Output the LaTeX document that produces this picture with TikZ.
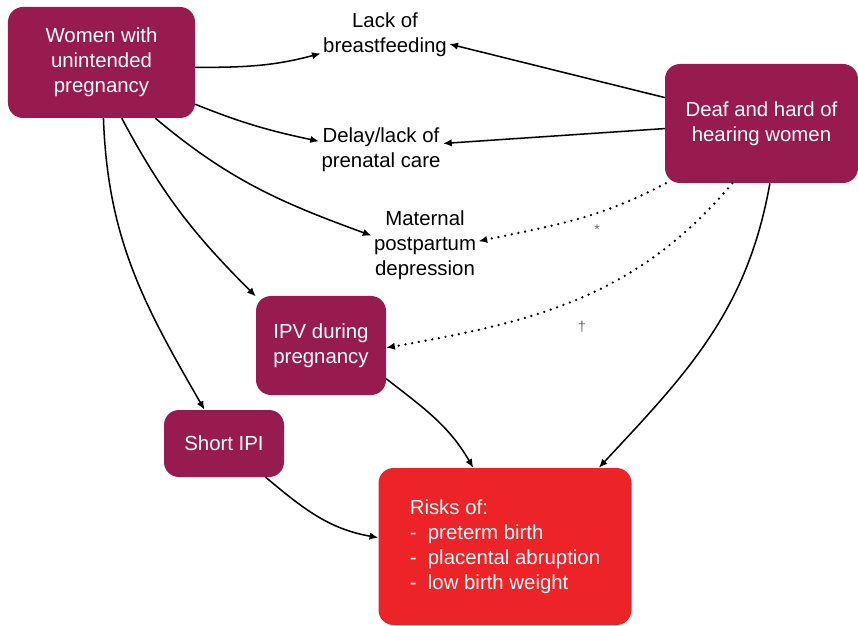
\documentclass[tikz,border=0pt]{standalone}
\usepackage{fontspec}
\setmainfont{Liberation Sans}
\usepackage{xcolor}
\usetikzlibrary{arrows.meta}
\definecolor{plum}{RGB}{152,27,80}
\definecolor{riskred}{RGB}{236,36,39}
\newcommand{\diagfont}{\fontsize{17.4}{21.3}\selectfont}
\tikzset{
    factorBox/.style={
        fill=plum,
        rounded corners=4.5mm,
        align=center,
        text=white,
        font=\diagfont
    },
    riskBox/.style={
        fill=riskred,
        rounded corners=4.5mm,
        align=left,
        text=white,
        font=\diagfont
    },
    outcomeText/.style={
        align=center,
        inner sep=2pt,
        font=\diagfont
    },
    noteMark/.style={
        text=black!60,
        font=\fontsize{12}{13}\selectfont
    },
    linkArrow/.style={
        -{Latex[length=2.6mm,width=2.2mm]},
        line width=1.3pt
    },
    linkDotted/.style={
        -{Latex[length=2.6mm,width=2.2mm]},
        line width=2.2pt,
        line cap=round,
        dash pattern=on 0pt off 5.8pt
    }
}

\begin{document}
\begin{tikzpicture}
        \useasboundingbox (0,0) rectangle (25.74,18.75);

        \node[factorBox,minimum width=5.61cm,minimum height=3.33cm] (women) at (3.045,16.875) {Women with\\unintended\\pregnancy};
        \node[factorBox,minimum width=5.79cm,minimum height=3.57cm] (deaf) at (22.845,15.045) {Deaf and hard of\\hearing women};
        \node[factorBox,minimum width=3.9cm,minimum height=2.97cm] (ipv) at (9.63,8.385) {IPV during\\pregnancy};
        \node[factorBox,minimum width=3.6cm,minimum height=2.01cm] (ipi) at (6.72,5.445) {Short IPI};
        \node[riskBox,minimum width=7.59cm,minimum height=4.71cm] (risks) at (15.15,2.355) {Risks of:\\-\ \ preterm birth\\-\ \ placental abruption\\-\ \ low birth weight};

        \node[outcomeText] (bf) at (11.55,17.7) {Lack of\\breastfeeding};
        \node[outcomeText] (prenatal) at (11.43,14.25) {Delay/lack of\\prenatal care};
        \node[outcomeText] (maternal) at (12.75,11.4) {Maternal\\postpartum\\depression};

        \node[noteMark] (star) at (17.91,11.85) {*};
        \node[noteMark] (dagger) at (17.46,8.94) {†};

        \draw[linkArrow] (women.-3) to[out=0,in=195] (bf.196);
        \draw[linkArrow] (women.-24) to[out=-22,in=168] (prenatal.172);
        \draw[linkArrow] (women.-46) to[out=-40,in=160] (maternal.170);
        \draw[linkArrow] (women.-70) to[out=-62,in=135] (ipv.143);
        \draw[linkArrow] (women.-88) to[out=-88,in=120] (ipi.120);

        \draw[linkArrow] (deaf.165) -- (bf.-8);
        \draw[linkArrow] (deaf.183) -- (prenatal.6);
        \draw[linkDotted] (deaf.212) to[out=208,in=12] (maternal.4);
        \draw[linkDotted] (deaf.244) to[out=230,in=10] (ipv.-2);
        \draw[linkArrow] (deaf.-82) to[out=-100,in=47] (risks.40);

        \draw[linkArrow] (ipv.-27) to[out=-38,in=120] (risks.112);
        \draw[linkArrow] (ipi.-39) to[out=-40,in=170] (risks.176);
    \end{tikzpicture}
\end{document}
